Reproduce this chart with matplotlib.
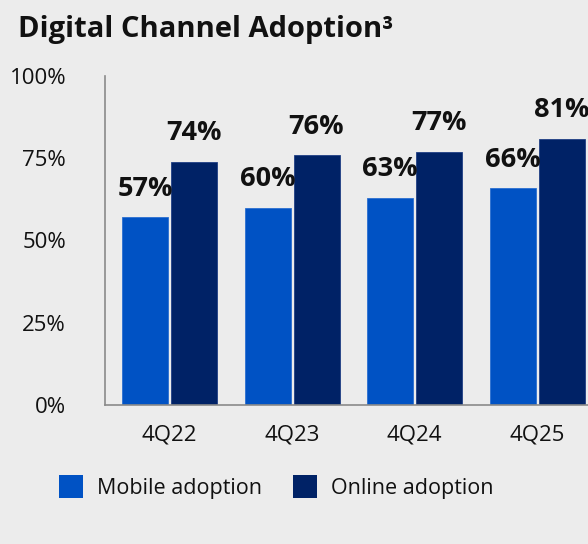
import matplotlib
matplotlib.use("Agg")
import matplotlib.pyplot as plt
from matplotlib.patches import Patch
import numpy as np

quarters = ["4Q22", "4Q23", "4Q24", "4Q25"]
mobile_adoption = [57, 60, 63, 66]
online_adoption = [74, 76, 77, 81]
y_ticks = [0, 25, 50, 75, 100]
y_tick_labels = ["0%", "25%", "50%", "75%", "100%"]

BG = "#ECECEC"
MOBILE = "#0052C4"
ONLINE = "#002266"
FONT = "Open Sans"

plt.rcParams["font.family"] = [FONT, "DejaVu Sans"]

fig = plt.figure(figsize=(5.88, 5.44), dpi=100, facecolor=BG)
ax = fig.add_axes([105 / 588, (544 - 405) / 544, 1 - 105 / 588, (405 - 76) / 544])
ax.set_facecolor(BG)

x = np.arange(len(quarters))
w = 0.375
off = 0.2
b1 = ax.bar(x - off, mobile_adoption, w, color=MOBILE, edgecolor="#2a6fd0", linewidth=0.6, zorder=2)
b2 = ax.bar(x + off, online_adoption, w, color=ONLINE, edgecolor="#1f3f85", linewidth=0.6, zorder=2)

for bars, vals in ((b1, mobile_adoption), (b2, online_adoption)):
    for rect, v in zip(bars, vals):
        ax.annotate(f"{v}%", (rect.get_x() + rect.get_width() / 2, v),
                    xytext=(0, 11), textcoords="offset points",
                    ha="center", va="bottom", fontsize=19.5, fontweight="bold",
                    color="#111111")

ax.set_xlim(-0.527, 3.416)
ax.set_ylim(0, 100)
ax.set_yticks(y_ticks)
ax.set_yticklabels(y_tick_labels)
ax.set_xticks(x)
ax.set_xticklabels(quarters)
ax.tick_params(axis="both", length=0, labelsize=16, colors="#111111")
ax.tick_params(axis="y", pad=28)
ax.tick_params(axis="x", pad=14)

for side in ("top", "right"):
    ax.spines[side].set_visible(False)
for side in ("left", "bottom"):
    ax.spines[side].set_color("#8a8a8a")
    ax.spines[side].set_linewidth(1.2)

fig.text(18 / 588, 1 - 30 / 544, "Digital Channel Adoption³", fontsize=21,
         fontweight="bold", color="#111111", ha="left", va="center")

handles = [Patch(facecolor=MOBILE, edgecolor="none"), Patch(facecolor=ONLINE, edgecolor="none")]
fig.legend(handles, ["Mobile adoption", "Online adoption"], loc="center left",
           bbox_to_anchor=(40 / 588, 1 - 487 / 544), ncol=2, frameon=False,
           fontsize=15.5, handlelength=1.1, handleheight=1.25,
           handletextpad=0.65, columnspacing=1.45, labelcolor="#111111")

fig.savefig("out.png", dpi=100, facecolor=BG)
